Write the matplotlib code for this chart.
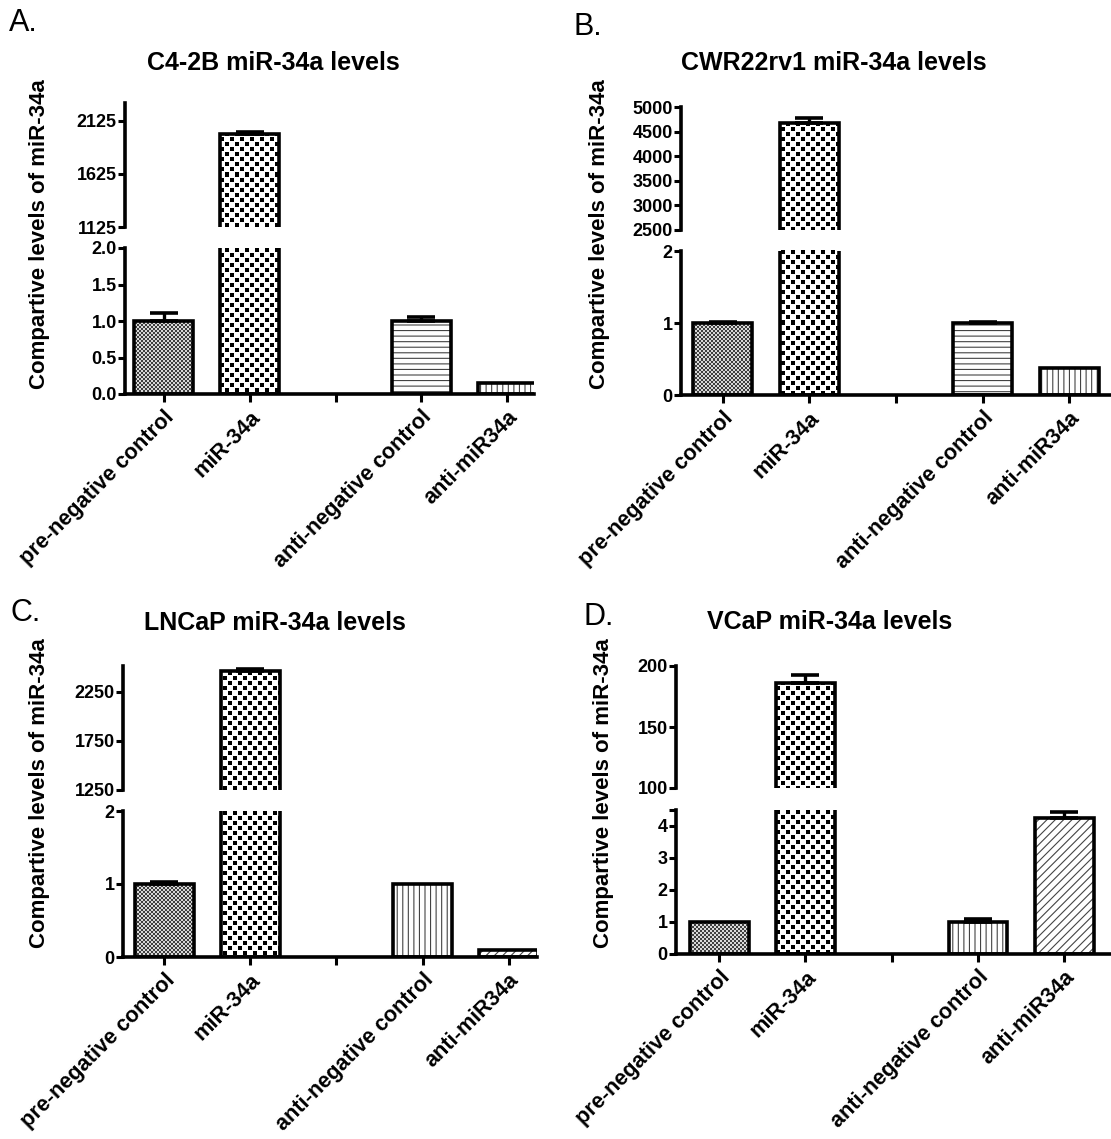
import matplotlib.pyplot as plt
import numpy as np

plt.rcParams["font.family"] = ["Liberation Sans", "DejaVu Sans"]
plt.rcParams["hatch.linewidth"] = 0.8

W, H, DPI = 1111, 1139, 100

# ---- data ----
categories = ["pre-negative control", "miR-34a", "", "anti-negative control", "anti-miR34a"]
bar_pos = [0, 1, 3, 4]

c42b_values = [1.0, 2000, 1.0, 0.15]
c42b_errors = [0.11, 20, 0.05, 0.0]
cwr_values = [1.0, 4670, 1.0, 0.38]
cwr_errors = [0.02, 110, 0.02, 0.0]
lncap_values = [1.0, 2455, 1.0, 0.09]
lncap_errors = [0.03, 28, 0.0, 0.0]
vcap_values = [1.0, 186, 1.0, 4.25]
vcap_errors = [0.0, 7, 0.1, 0.2]

c42b_upper_ticks = [1125, 1625, 2125]
c42b_lower_ticks = [0.0, 0.5, 1.0, 1.5, 2.0]
c42b_lower_labels = ["0.0", "0.5", "1.0", "1.5", "2.0"]
cwr_upper_ticks = [2500, 3000, 3500, 4000, 4500, 5000]
cwr_lower_ticks = [0, 1, 2]
cwr_lower_labels = ["0", "1", "2"]
lncap_upper_ticks = [1250, 1750, 2250]
lncap_lower_ticks = [0, 1, 2]
lncap_lower_labels = ["0", "1", "2"]
vcap_upper_ticks = [100, 150, 200]
vcap_lower_ticks = [0, 1, 2, 3, 4, 4.5]
vcap_lower_labels = ["0", "1", "2", "3", "4", ""]

ylabel = "Compartive levels of miR-34a"


def pattern_image(kind, h, w):
    yy, xx = np.mgrid[0:h, 0:w]
    if kind == "fine":
        on = (xx // 2 + yy // 2) % 2 == 0
        return np.where(on, 0.25, 0.85)
    cell = 5
    on = ((xx // cell + yy // cell) % 2 == 0) & (xx % cell < 4) & (yy % cell < 4)
    return np.where(on, 0.0, 1.0)


def px_axes(fig, left, right, top, bottom):
    return fig.add_axes([left / W, 1 - bottom / H, (right - left) / W, (bottom - top) / H])


def draw_bars(ax, values, errors, styles, box):
    hpx = int(round(box[3] - box[2]))
    wpx = int(round(box[1] - box[0]))
    for x, v, e, st in zip(bar_pos, values, errors, styles):
        if st in ("fine", "checker"):
            base = ax.bar(x, v, width=0.68, color="white", linewidth=0, zorder=1)[0]
            im = ax.imshow(pattern_image(st, hpx, wpx), cmap="gray", vmin=0, vmax=1,
                           extent=(0, 1, 0, 1), transform=ax.transAxes,
                           interpolation="nearest", aspect="auto", zorder=2)
            im.set_clip_path(base)
        else:
            hatch = {"hlines": "---", "vlines": "|||", "diag": "////"}[st]
            ax.bar(x, v, width=0.68, color="white", edgecolor="#444444",
                   linewidth=0, hatch=hatch, zorder=2)
        ax.bar(x, v, width=0.68, fill=False, edgecolor="black", linewidth=2.6, zorder=3)
        if e > 0:
            ax.errorbar(x, v, yerr=[[0], [e]], fmt="none", ecolor="black",
                        elinewidth=2.4, capsize=10, capthick=2.6, zorder=4)


def style_axis(ax, xlim):
    ax.set_xlim(*xlim)
    for s in ("top", "right"):
        ax.spines[s].set_visible(False)
    for s in ("left", "bottom"):
        ax.spines[s].set_linewidth(2.6)
    ax.tick_params(axis="y", length=5, width=2.2, pad=1, labelsize=13, direction="out")
    ax.tick_params(axis="x", length=6, width=2.2, direction="out")
    for lab in ax.get_yticklabels():
        lab.set_fontweight("bold")


def panel(fig, letter, title, values, errors, styles, upper_ticks, upper_lim,
          lower_ticks, lower_labels, lower_lim, hbox, upper_y, lower_y, xlim,
          letter_xy, title_xy, ylab_xy):
    up_box = (hbox[0], hbox[1], upper_y[0], upper_y[1])
    lo_box = (hbox[0], hbox[1], lower_y[0], lower_y[1])
    ax_up = px_axes(fig, *up_box)
    ax_lo = px_axes(fig, *lo_box)

    draw_bars(ax_up, values, errors, styles, up_box)
    draw_bars(ax_lo, values, errors, styles, lo_box)

    ax_up.set_ylim(*upper_lim)
    ax_up.set_yticks(upper_ticks)
    ax_up.set_yticklabels([str(t) for t in upper_ticks], fontweight="bold")
    ax_lo.set_ylim(*lower_lim)
    ax_lo.set_yticks(lower_ticks)
    ax_lo.set_yticklabels(lower_labels, fontweight="bold")

    style_axis(ax_up, xlim)
    style_axis(ax_lo, xlim)
    ax_up.spines["bottom"].set_visible(False)
    ax_up.tick_params(axis="x", bottom=False, labelbottom=False)

    ax_lo.set_xticks(range(len(categories)))
    ax_lo.set_xticklabels(categories, rotation=45, ha="right",
                          rotation_mode="anchor", fontsize=15.6, fontweight="bold")
    ax_lo.tick_params(axis="x", pad=3)

    fig.text(letter_xy[0] / W, 1 - letter_xy[1] / H, letter, fontsize=22,
             ha="left", va="top")
    fig.text(title_xy[0] / W, 1 - title_xy[1] / H, title, fontsize=18,
             fontweight="bold", ha="center", va="center")
    fig.text(ylab_xy[0] / W, 1 - ylab_xy[1] / H, ylabel, fontsize=16,
             fontweight="bold", rotation=90, ha="center", va="center")


fig = plt.figure(figsize=(W / DPI, H / DPI), dpi=DPI)

panel(fig, "A.", "C4-2B miR-34a levels", c42b_values, c42b_errors,
      ["fine", "checker", "hlines", "vlines"],
      c42b_upper_ticks, (1125, 2290), c42b_lower_ticks, c42b_lower_labels, (0, 2.0),
      (125, 534), (103, 227), (248, 394), (-0.45, 4.31),
      (9, 8), (273, 63), (40, 234))

panel(fig, "B.", "CWR22rv1 miR-34a levels", cwr_values, cwr_errors,
      ["fine", "checker", "hlines", "vlines"],
      cwr_upper_ticks, (2500, 5000), cwr_lower_ticks, cwr_lower_labels, (0, 2),
      (681, 1111), (107, 230), (251, 395), (-0.48, 4.48),
      (574, 12), (834, 63), (600, 234))

panel(fig, "C.", "LNCaP miR-34a levels", lncap_values, lncap_errors,
      ["fine", "checker", "vlines", "diag"],
      lncap_upper_ticks, (1250, 2510), lncap_lower_ticks, lncap_lower_labels, (0, 2),
      (123, 537), (666, 790), (811, 957), (-0.48, 4.33),
      (11, 598), (275, 623), (40, 793))

panel(fig, "D.", "VCaP miR-34a levels", vcap_values, vcap_errors,
      ["fine", "checker", "vlines", "diag"],
      vcap_upper_ticks, (100, 200), vcap_lower_ticks, vcap_lower_labels, (0, 4.5),
      (676, 1111), (666, 788), (810, 954), (-0.50, 4.54),
      (583, 602), (830, 622), (603, 793))

fig.savefig("out.png", dpi=DPI)
